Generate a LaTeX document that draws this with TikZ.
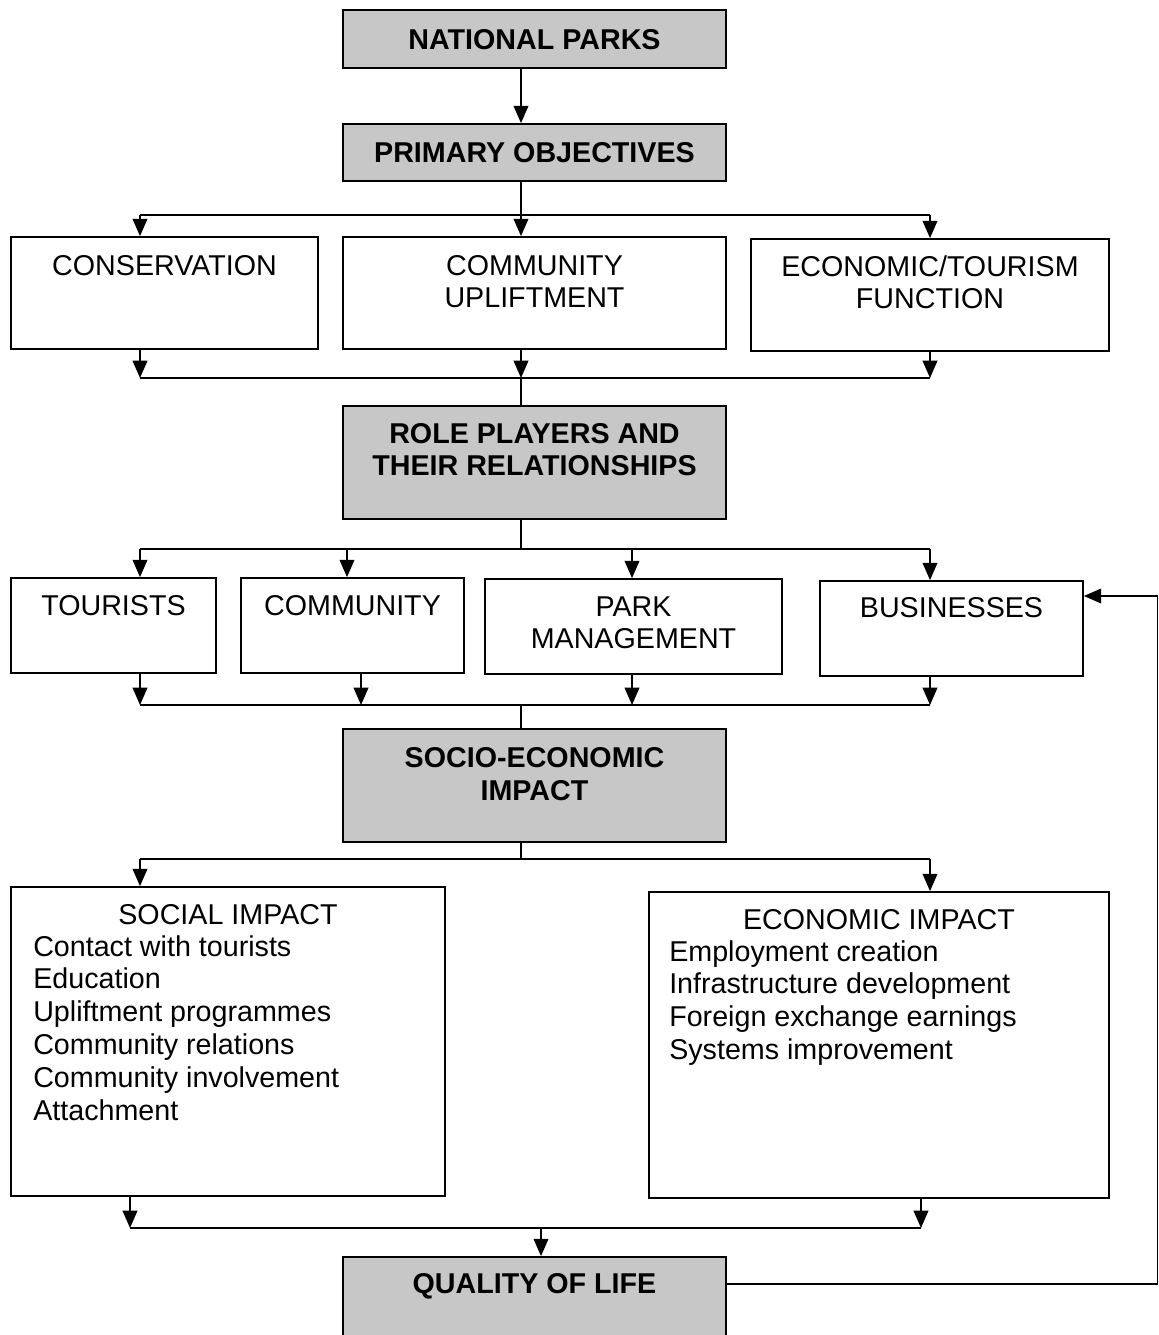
\documentclass[tikz,border=0pt]{standalone}
\usepackage{fontspec}
\setmainfont{Liberation Sans}
\usetikzlibrary{arrows.meta,fit}
\begin{document}
\tikzset{
 box/.style={draw, line width=1.3pt, inner sep=0pt},
 shaded/.style={box, fill=black!22},
 txt/.style={inner sep=0pt, anchor=base, font=\fontsize{21.5}{24.6}\selectfont},
 btxt/.style={txt, font=\fontsize{21.5}{24.6}\selectfont\bfseries},
 ltxt/.style={txt, anchor=base west},
 ln/.style={line width=1.3pt},
 arr/.style={ln, -{Triangle[length=13pt,width=11pt]}},
}
\begin{tikzpicture}[x=0.75pt,y=-0.75pt]
\clip (0,0) rectangle (1159,1335);
\fill[white] (0,0) rectangle (1159,1335);

% boxes
\node[shaded, fit={(343,10)(726,68)}] (np) {};
\node[shaded, fit={(343,124)(726,181)}] (po) {};
\node[box, fit={(11,237)(318,349)}] (cons) {};
\node[box, fit={(343,237)(726,349)}] (upl) {};
\node[box, fit={(751,239)(1109,351)}] (econf) {};
\node[shaded, fit={(343,406)(726,519)}] (role) {};
\node[box, fit={(11,578)(216,673)}] (tour) {};
\node[box, fit={(241,578)(464,673)}] (comm) {};
\node[box, fit={(485,579)(782,674)}] (park) {};
\node[box, fit={(820,581)(1083,676)}] (bus) {};
\node[shaded, fit={(343,729)(726,842)}] (socio) {};
\node[box, fit={(11,887)(445,1196)}] (soc) {};
\node[box, fit={(649,892)(1109,1198)}] (eco) {};
\node[shaded, fit={(343,1257)(726,1345)}] (qol) {};

% texts
\node[btxt] (tnp) at (534.5,49) {NATIONAL PARKS};
\node[btxt] (tpo) at (534.5,162) {PRIMARY OBJECTIVES};
\node[txt] (tcons) at (164.5,275) {CONSERVATION};
\node[txt] (tupl1) at (534.5,275) {COMMUNITY};
\node[txt] (tupl2) at (534.5,307) {UPLIFTMENT};
\node[txt] (tecf1) at (930,276) {ECONOMIC/TOURISM};
\node[txt] (tecf2) at (930,308) {FUNCTION};
\node[btxt] (trole1) at (534.5,443) {ROLE PLAYERS AND};
\node[btxt] (trole2) at (534.5,475) {THEIR RELATIONSHIPS};
\node[txt] (ttour) at (113.5,615) {TOURISTS};
\node[txt] (tcomm) at (352.5,615) {COMMUNITY};
\node[txt] (tpark1) at (633.5,616) {PARK};
\node[txt] (tpark2) at (633.5,648) {MANAGEMENT};
\node[txt] (tbus) at (951.5,617) {BUSINESSES};
\node[btxt] (tsocio1) at (534.5,767) {SOCIO-ECONOMIC};
\node[btxt] (tsocio2) at (534.5,800) {IMPACT};
\node[txt] (tsoc) at (228,924) {SOCIAL IMPACT};
\foreach \t [count=\i] in {Contact with tourists, Education, Upliftment programmes, Community relations, Community involvement, Attachment}
  \node[ltxt] (s\i) at (33,{956+32.8*(\i-1)}) {\t};
\node[txt] (teco) at (879,929) {ECONOMIC IMPACT};
\foreach \t [count=\i] in {Employment creation, Infrastructure development, Foreign exchange earnings, Systems improvement}
  \node[ltxt] (e\i) at (669,{961+32.8*(\i-1)}) {\t};
\node[btxt] (tqol) at (534.5,1293) {QUALITY OF LIFE};

% coordinates for buses
\coordinate (mx) at (521,0);
\coordinate (b1l) at (140,215); \coordinate (b1m) at (521,215); \coordinate (b1r) at (930,215);
\coordinate (b2l) at (140,378); \coordinate (b2m) at (521,378); \coordinate (b2r) at (930,378);
\coordinate (b3a) at (140,549); \coordinate (b3b) at (347,549); \coordinate (b3m) at (521,549);
\coordinate (b3c) at (632,549); \coordinate (b3d) at (930,549);
\coordinate (b4a) at (140,705); \coordinate (b4b) at (361,705); \coordinate (b4m) at (521,705);
\coordinate (b4c) at (632,705); \coordinate (b4d) at (930,705);
\coordinate (b5l) at (140,859); \coordinate (b5m) at (521,859); \coordinate (b5r) at (930,859);
\coordinate (b6l) at (130,1228); \coordinate (b6m) at (541,1228); \coordinate (b6r) at (921,1228);
\coordinate (fb1) at (1157.5,1284); \coordinate (fb2) at (1157.5,596);

% connectors
\draw[arr] (np.south -| mx) -- (po.north -| mx);
\draw[ln] (po.south -| mx) -- (b1m);
\draw[ln] (b1l) -- (b1r);
\draw[arr] (b1l) -- (cons.north -| b1l);
\draw[arr] (b1m) -- (upl.north -| b1m);
\draw[arr] (b1r) -- (econf.north -| b1r);

\draw[arr] (cons.south -| b2l) -- (b2l);
\draw[arr] (upl.south -| b2m) -- (b2m);
\draw[arr] (econf.south -| b2r) -- (b2r);
\draw[ln] (b2l) -- (b2r);
\draw[ln] (b2m) -- (role.north -| b2m);

\draw[ln] (role.south -| b3m) -- (b3m);
\draw[ln] (b3a) -- (b3d);
\draw[arr] (b3a) -- (tour.north -| b3a);
\draw[arr] (b3b) -- (comm.north -| b3b);
\draw[arr] (b3c) -- (park.north -| b3c);
\draw[arr] (b3d) -- (bus.north -| b3d);

\draw[arr] (tour.south -| b4a) -- (b4a);
\draw[arr] (comm.south -| b4b) -- (b4b);
\draw[arr] (park.south -| b4c) -- (b4c);
\draw[arr] (bus.south -| b4d) -- (b4d);
\draw[ln] (b4a) -- (b4d);
\draw[ln] (b4m) -- (socio.north -| b4m);

\draw[ln] (socio.south -| b5m) -- (b5m);
\draw[ln] (b5l) -- (b5r);
\draw[arr] (b5l) -- (soc.north -| b5l);
\draw[arr] (b5r) -- (eco.north -| b5r);

\draw[arr] (soc.south -| b6l) -- (b6l);
\draw[arr] (eco.south -| b6r) -- (b6r);
\draw[ln] (b6l) -- (b6r);
\draw[arr] (b6m) -- (qol.north -| b6m);

\draw[arr] (qol.east |- fb1) -- (fb1) -- (fb2) -- (bus.east |- fb2);
\end{tikzpicture}
\end{document}
